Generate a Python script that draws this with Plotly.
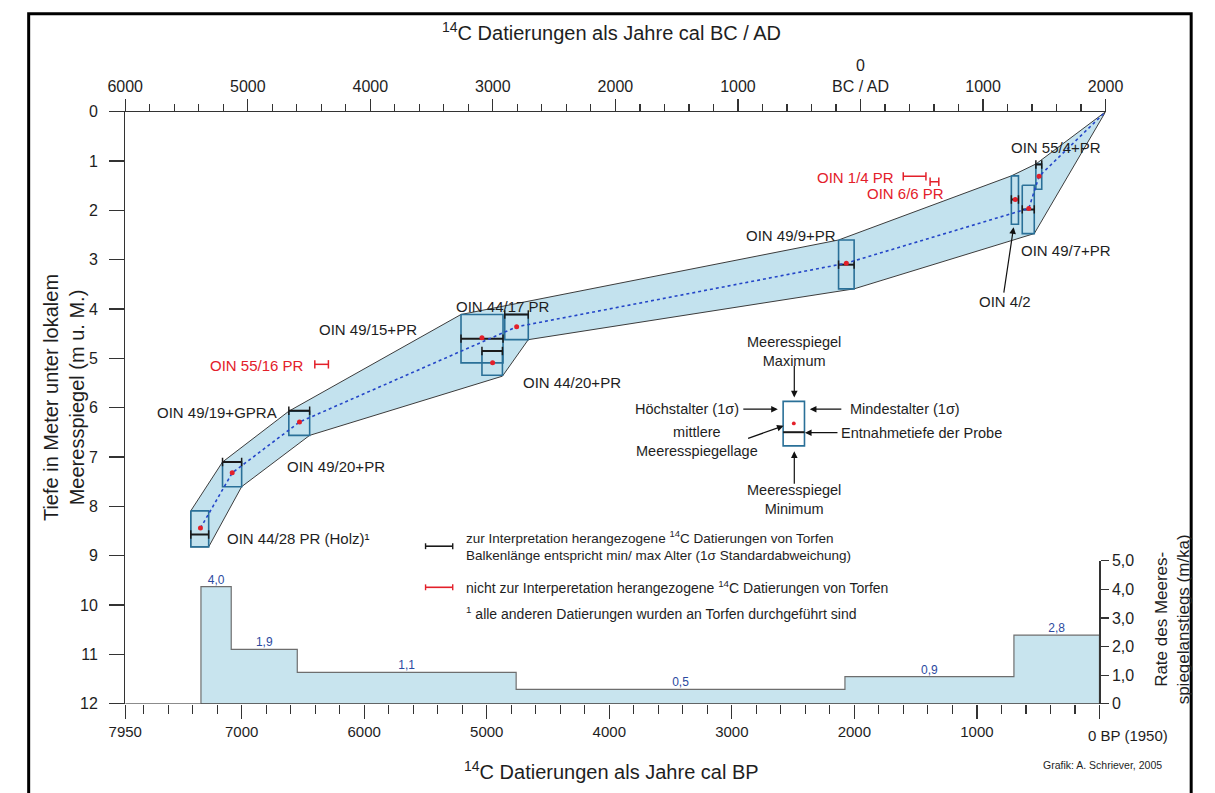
import plotly.graph_objects as go

W, H = 1215, 793
def fx(px): return px / W
def fy(py): return 1 - py / H

# ---------------- data ----------------
sample_labels = ["OIN 44/28 PR (Holz)¹", "OIN 49/20+PR", "OIN 49/19+GPRA", "OIN 49/15+PR",
                 "OIN 44/20+PR", "OIN 44/17 PR", "OIN 49/9+PR", "OIN 4/2", "OIN 49/7+PR", "OIN 55/4+PR"]
age_old_bp = [7415, 7156, 6615, 5210, 5039, 4853, 2129, 719, 630, 519]      # Höchstalter (1σ)
age_young_bp = [7269, 7000, 6445, 4867, 4872, 4661, 2002, 661, 532, 471]    # Mindestalter (1σ)
sl_max_depth = [8.09, 7.10, 6.07, 4.11, 4.85, 4.11, 2.60, 1.30, 1.49, 1.06] # Meeresspiegel Maximum
sl_min_depth = [8.82, 7.60, 6.56, 5.09, 5.34, 4.62, 3.59, 2.28, 2.47, 1.57] # Meeresspiegel Minimum
sample_depth = [8.57, 7.10, 6.06, 4.60, 4.85, 4.11, 3.10, 1.78, 1.98, 1.07] # Entnahmetiefe
mean_sl_bp = [7336, 7077, 6528, 5039, 4952, 4756, 2066, 687, 577, 493]
mean_sl_depth = [8.44, 7.32, 6.29, 4.58, 5.09, 4.36, 3.07, 1.78, 1.96, 1.31]
curve_idx = [0, 1, 2, 5, 6, 8, 9]
curve_end_bp, curve_end_depth = -50, 0.0

rej_labels = ["OIN 1/4 PR", "OIN 6/6 PR", "OIN 55/16 PR"]
rej_old_bp = [1601, 1382, 6403]
rej_young_bp = [1416, 1311, 6292]
rej_depth = [1.31, 1.42, 5.12]

env_bp = [7415, 7415, 7156, 6615, 5210, 2129, 719, 519, -50,
          532, 2002, 4661, 4872, 6445, 7000, 7269]
env_depth = [8.82, 8.09, 7.10, 6.07, 4.11, 2.60, 1.30, 1.06, 0.0,
             2.47, 3.59, 4.62, 5.36, 6.56, 7.60, 8.82]

step_edges_bp = [7332, 7085, 6546, 4760, 2077, 698, 0]
rate_heights = [4.1, 1.9, 1.1, 0.5, 0.95, 2.4]
rate_labels = ["4,0", "1,9", "1,1", "0,5", "0,9", "2,8"]

bp_ticks = [7950, 7000, 6000, 5000, 4000, 3000, 2000, 1000, 0]
bp_ticktext = ["7950", "7000", "6000", "5000", "4000", "3000", "2000", "1000", ""]
bp_minor = [v for v in range(7800, 0, -200) if v % 1000 != 0]
ad_ticks = [-6000, -5000, -4000, -3000, -2000, -1000, 0, 1000, 2000]
ad_ticktext = ["6000", "5000", "4000", "3000", "2000", "1000", "0<br>BC / AD", "1000", "2000"]
ad_minor = [v for v in range(-5800, 2000, 200) if v % 1000 != 0]
depth_ticks = list(range(0, 13))
rate_ticks = [0, 1, 2, 3, 4, 5]
rate_ticktext = ["0", "1,0", "2,0", "3,0", "4,0", "5,0"]

# ---------------- style ----------------
FONT = "Arial, 'Liberation Sans', sans-serif"
BAND = "#c3e2ee"
STEP = "#c8e4ee"
BOX = "#2a7098"
RED = "#e3202a"
TXT = "#1e1e1e"
AX = "#333333"

fig = go.Figure()

# envelope band
fig.add_trace(go.Scatter(x=env_bp + [env_bp[0]], y=env_depth + [env_depth[0]], mode="lines",
                         fill="toself", fillcolor=BAND, line=dict(color="#3c3c3c", width=1),
                         hoverinfo="skip", showlegend=False))

# boxes
bx, by = [], []
for o, yg, t, b in zip(age_old_bp, age_young_bp, sl_max_depth, sl_min_depth):
    bx += [o, yg, yg, o, o, None]
    by += [t, t, b, b, t, None]
fig.add_trace(go.Scatter(x=bx, y=by, mode="lines", line=dict(color=BOX, width=1.6),
                         hoverinfo="skip", showlegend=False))

# sample depth bars (age range)
sx, sy = [], []
for o, yg, d in zip(age_old_bp, age_young_bp, sample_depth):
    sx += [o, yg, None]
    sy += [d, d, None]
fig.add_trace(go.Scatter(x=sx, y=sy, mode="lines+markers", line=dict(color="#1a1a1a", width=2),
                         marker=dict(symbol="line-ns-open", size=6, color="#1a1a1a",
                                     line=dict(width=1.5, color="#1a1a1a")),
                         hoverinfo="skip", showlegend=False))

# rejected dates
rx, ry = [], []
for o, yg, d in zip(rej_old_bp, rej_young_bp, rej_depth):
    rx += [o, yg, None]
    ry += [d, d, None]
fig.add_trace(go.Scatter(x=rx, y=ry, mode="lines+markers", line=dict(color=RED, width=1.5),
                         marker=dict(symbol="line-ns-open", size=6, color=RED,
                                     line=dict(width=1.5, color=RED)),
                         hoverinfo="skip", showlegend=False))

# sea level curve (dotted)
cx = [mean_sl_bp[i] for i in curve_idx] + [curve_end_bp]
cy = [mean_sl_depth[i] for i in curve_idx] + [curve_end_depth]
fig.add_trace(go.Scatter(x=cx, y=cy, mode="lines", line=dict(color="#2446c8", width=1.6, dash="dot"),
                         hoverinfo="skip", showlegend=False))

# mean sea level dots
fig.add_trace(go.Scatter(x=mean_sl_bp, y=mean_sl_depth, mode="markers",
                         marker=dict(color=RED, size=5), hoverinfo="skip", showlegend=False))

# rate of sea level rise (steps)
px_, py_ = [step_edges_bp[0]], [0]
for i, h in enumerate(rate_heights):
    px_ += [step_edges_bp[i], step_edges_bp[i + 1]]
    py_ += [h, h]
px_ += [step_edges_bp[-1], step_edges_bp[0]]
py_ += [0, 0]
fig.add_trace(go.Scatter(x=px_, y=py_, mode="lines", fill="toself", fillcolor=STEP,
                         line=dict(color="#6e6e6e", width=1.2), xaxis="x", yaxis="y2",
                         hoverinfo="skip", showlegend=False))
mid = [(step_edges_bp[i] + step_edges_bp[i + 1]) / 2 for i in range(len(rate_heights))]
fig.add_trace(go.Scatter(x=mid, y=rate_heights, mode="text", text=rate_labels,
                         textposition="top center", textfont=dict(size=12, color="#2b4aa0", family=FONT),
                         xaxis="x", yaxis="y2", hoverinfo="skip", showlegend=False))

# dummy trace for top axis
fig.add_trace(go.Scatter(x=[-6000, 2000], y=[0, 0], mode="markers", marker=dict(opacity=0),
                         xaxis="x2", yaxis="y", hoverinfo="skip", showlegend=False))

# ---------------- annotations ----------------
ann = []
def text(px, py, s, size=15, color=TXT, xanchor="center", **kw):
    ann.append(dict(x=fx(px), y=fy(py), xref="paper", yref="paper", text=s, showarrow=False,
                    xanchor=xanchor, yanchor="middle", font=dict(size=size, color=color, family=FONT), **kw))

def arrow(head, tail, width=1.2):
    ann.append(dict(x=fx(head[0]), y=fy(head[1]), xref="paper", yref="paper", text="",
                    showarrow=True, ax=tail[0] - head[0], ay=tail[1] - head[1],
                    arrowhead=2, arrowsize=1.1, arrowwidth=width, arrowcolor="#111", standoff=0))

# sample labels
label_pos = [(289, 542), (328, 469), (205, 413), (361, 329), (571, 383), (500, 305),
             (797, 232), (1017, 300), (1080, 248), (1070, 143)]
for (lx, ly), s in zip(label_pos, sample_labels):
    text(lx, ly, s)
rej_pos = [(863, 173), (915, 190), (246, 365)]
for (lx, ly), s in zip(rej_pos, rej_labels):
    text(lx, ly, s, color=RED)
arrow((1026, 224), (1016, 291))

# explanation diagram
text(800, 351, "Meeresspiegel<br>Maximum", size=14.5)
text(745, 410, "Höchstalter (1σ)", size=14.5, xanchor="right")
text(855, 410, "Mindestalter (1σ)", size=14.5, xanchor="left")
text(700, 443, "mittlere<br>Meeresspiegellage", size=14.5)
text(846, 434, "Entnahmetiefe der Probe", size=14.5, xanchor="left")
text(800, 502, "Meeresspiegel<br>Minimum", size=14.5)
arrow((800, 398), (800, 365))
arrow((783, 410), (747, 410))
arrow((816, 410), (849, 410))
arrow((789, 427), (752, 440))
arrow((811, 434), (845, 434))
arrow((800, 453), (800, 487))

# legend texts
text(460, 549, "zur Interpretation herangezogene <sup>14</sup>C Datierungen von Torfen<br>"
               "Balkenlänge entspricht min/ max Alter (1σ Standardabweichung)",
     size=13.5, xanchor="left", align="left")
text(460, 592, "nicht zur Interperetation herangezogene <sup>14</sup>C Datierungen von Torfen", size=14, xanchor="left")
text(460, 618, "<sup>1</sup> alle anderen Datierungen wurden an Torfen durchgeführt sind", size=14, xanchor="left")

# titles
text(612, 24, "<sup>14</sup>C Datierungen als Jahre cal BC / AD", size=20)
text(612, 779, "<sup>14</sup>C Datierungen als Jahre cal BP", size=20)
text(48, 398, "Tiefe in Meter unter lokalem<br>Meeresspiegel (m u. M.)", size=20, textangle=-90)
text(1190, 625, "Rate des Meeres-<br>spiegelanstiegs (m/ka)", size=17, textangle=-90)
text(1101, 743, "0 BP (1950)", size=15, xanchor="left")
text(1181, 774, "Grafik: A. Schriever, 2005", size=10.5, xanchor="right")

# ---------------- shapes ----------------
shapes = []
def pline(x0, y0, x1, y1, color, width=1.2):
    shapes.append(dict(type="line", xref="paper", yref="paper", x0=fx(x0), y0=fy(y0),
                       x1=fx(x1), y1=fy(y1), line=dict(color=color, width=width)))

# outer frame
shapes.append(dict(type="rect", xref="paper", yref="paper", x0=fx(11), y0=-0.02, x1=fx(1209), y1=fy(6),
                   line=dict(color="#000", width=3), fillcolor="rgba(0,0,0,0)", layer="below"))
# bottom axis line (7950 to 0 BP)
shapes.append(dict(type="line", xref="x", yref="y", x0=7950, x1=0, y0=12, y1=12,
                   line=dict(color=AX, width=1.2)))
# legend keys
for (yk, col) in [(550, "#1a1a1a"), (592, RED)]:
    pline(420, yk, 448, yk, col, 1.6)
    pline(420, yk - 3, 420, yk + 3, col, 1.4)
    pline(448, yk - 3, 448, yk + 3, col, 1.4)
# explanation box
shapes.append(dict(type="rect", xref="paper", yref="paper", x0=fx(788.5), x1=fx(810.5),
                   y0=fy(447.5), y1=fy(402), line=dict(color=BOX, width=1.6)))
pline(788.5, 433.5, 810.5, 433.5, "#1a1a1a", 2)
shapes.append(dict(type="circle", xref="paper", yref="paper", x0=fx(797.5), x1=fx(801.5),
                   y0=fy(426.5), y1=fy(422.5), line=dict(color=RED, width=0), fillcolor=RED))

fig.update_layout(
    width=W, height=H, autosize=False,
    margin=dict(l=0, r=0, t=0, b=0),
    paper_bgcolor="white", plot_bgcolor="rgba(0,0,0,0)",
    font=dict(family=FONT, color=TXT),
    showlegend=False,
    xaxis=dict(domain=[fx(110.5), fx(1120.8)], range=[7950, -50], anchor="y", side="bottom",
               showline=False, showgrid=False, zeroline=False,
               tickmode="array", tickvals=bp_ticks, ticktext=bp_ticktext,
               ticks="outside", ticklen=14, tickwidth=1.2, tickcolor=AX,
               tickfont=dict(size=15, color=TXT, family=FONT),
               minor=dict(tickmode="array", tickvals=bp_minor, ticks="outside", ticklen=9,
                          tickwidth=1.2, tickcolor=AX, showgrid=False)),
    xaxis2=dict(overlaying="x", side="top", anchor="y", range=[-6000, 2000],
                showline=True, linecolor=AX, linewidth=1.2, showgrid=False, zeroline=False,
                tickmode="array", tickvals=ad_ticks, ticktext=ad_ticktext,
                ticks="outside", ticklen=12, tickwidth=1.2, tickcolor=AX,
                tickfont=dict(size=16, color=TXT, family=FONT),
                minor=dict(tickmode="array", tickvals=ad_minor, ticks="outside", ticklen=7,
                           tickwidth=1.2, tickcolor=AX, showgrid=False)),
    yaxis=dict(domain=[fy(711), fy(106)], range=[12, 0], anchor="x",
               showline=True, linecolor=AX, linewidth=1.2, showgrid=False, zeroline=False,
               tickmode="array", tickvals=depth_ticks, ticks="outside", ticklen=15,
               ticklabelstandoff=8,
               tickwidth=1.2, tickcolor=AX, tickfont=dict(size=16, color=TXT, family=FONT)),
    yaxis2=dict(domain=[fy(711), fy(565)], range=[0, 5], anchor="free", position=fx(1114.5),
                side="right", showline=True, linecolor=AX, linewidth=1.2, showgrid=False,
                zeroline=False, tickmode="array", tickvals=rate_ticks, ticktext=rate_ticktext,
                ticks="outside", ticklen=8, tickwidth=1.2, tickcolor=AX,
                tickfont=dict(size=16, color=TXT, family=FONT)),
    annotations=ann,
    shapes=shapes,
)

fig.write_html("out.html", config={"displayModeBar": False, "staticPlot": True},
               post_script="document.body.style.margin='0px';document.body.style.padding='0px';"
                           "document.documentElement.style.overflow='hidden';document.body.style.overflow='hidden';")
